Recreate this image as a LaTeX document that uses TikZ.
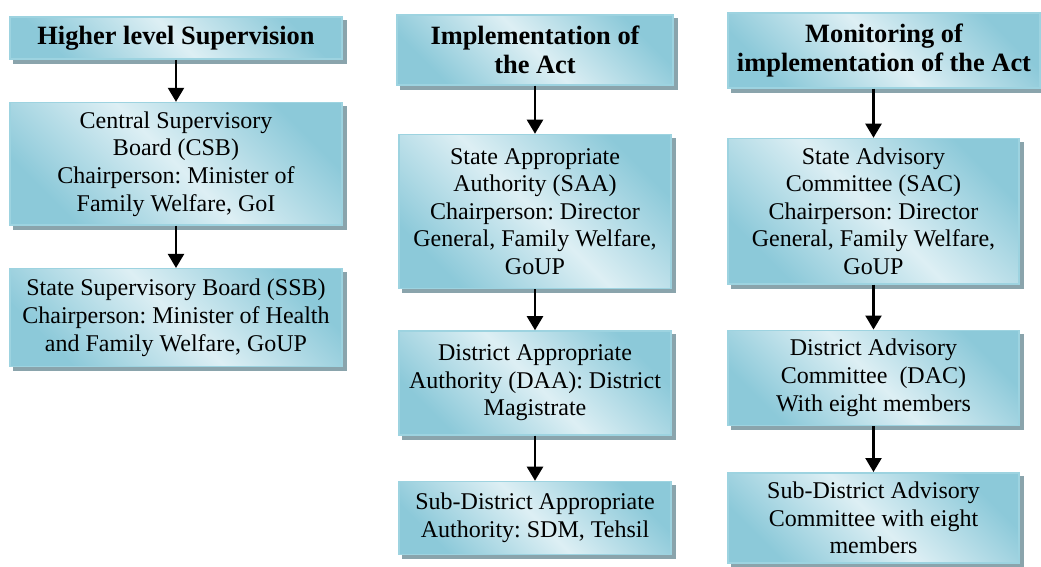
\documentclass[tikz,border=0pt]{standalone}
\usepackage{fontspec}
\setmainfont{Liberation Serif}[Ligatures=TeX]
\usetikzlibrary{positioning,backgrounds,arrows.meta}
\definecolor{boxdark}{HTML}{8CC9D9}
\definecolor{boxlight}{HTML}{DDEFF4}
\definecolor{boxline}{HTML}{9DD3E0}
\definecolor{shadowgrey}{HTML}{8AA4AC}

\begin{document}
\begin{tikzpicture}[x=0.5pt, y=-0.5pt,
    box/.style = {draw=boxline, line width=0.75pt, left color=boxdark, right color=boxdark, middle color=boxlight, shading angle=135,
        align=center, inner ysep=4.5pt, font=\frenchspacing\fontsize{12}{13.8}\selectfont},
    head/.style = {box, font=\frenchspacing\fontsize{13.2}{14.5}\selectfont\bfseries},
    arr/.style = {-{Triangle[width=8pt, length=7pt]}, line width=1.1pt}]
    \useasboundingbox (0,0) rectangle (1041,567);
    % higher level supervision
    \node[head, minimum width=166pt](h1) at (176,38) {Higher level Supervision};
    \node[box, minimum width=166pt](csb) [below=21pt of h1] {Central Supervisory\\Board (CSB)\\Chairperson: Minister of\\Family Welfare, GoI};
    \node[box, minimum width=166pt, minimum height=49pt](ssb) [below=21pt of csb] {State Supervisory Board (SSB)\\Chairperson: Minister of Health\\and Family Welfare, GoUP};
    % implementation of the act
    \node[head, minimum width=138pt, minimum height=35pt](h2) at (535,50) {Implementation of\\the Act};
    \node[box, minimum width=136pt, minimum height=77pt](saa) [below=24pt of h2] {State Appropriate\\Authority (SAA)\\Chairperson: Director\\General, Family Welfare,\\GoUP};
    \node[box, minimum width=136pt, minimum height=52pt](daa) [below=20.5pt of saa] {District Appropriate\\Authority (DAA): District\\Magistrate};
    \node[box, minimum width=136pt, minimum height=36.5pt](sdaa) [below=22.5pt of daa] {Sub-District Appropriate\\Authority: SDM, Tehsil};
    % monitoring
    \node[head, minimum width=156pt, minimum height=37.5pt](h3) at (884,50.5) {Monitoring of\\implementation of the Act};
    \node[box, minimum width=145.5pt](sac) [below=24.5pt of h3.south west, anchor=north west] {State Advisory\\Committee (SAC)\\Chairperson: Director\\General, Family Welfare,\\GoUP};
    \node[box, minimum width=145.5pt](dac) [below=22.5pt of sac] {District Advisory\\Committee~ (DAC)\\With eight members};
    \node[box, minimum width=145.5pt](sdac) [below=23pt of dac] {Sub-District Advisory\\Committee with eight\\members};
    % shadows
    \begin{scope}[on background layer]
        \foreach \n in {h1,csb,ssb,h2,saa,daa,sdaa,h3,sac,dac,sdac}
            \fill[shadowgrey] ([xshift=2pt,yshift=-2pt]\n.south west) rectangle ([xshift=2pt,yshift=-2pt]\n.north east);
    \end{scope}
    \draw[arr] (h1) -- (csb);
    \draw[arr] (csb) -- (ssb);
    \draw[arr] (h2) -- (saa);
    \draw[arr] (saa) -- (daa);
    \draw[arr] (daa) -- (sdaa);
    \draw[arr] (h3.south -| sac.north) -- (sac.north);
    \draw[arr] (sac) -- (dac);
    \draw[arr] (dac) -- (sdac);
\end{tikzpicture}
\end{document}
